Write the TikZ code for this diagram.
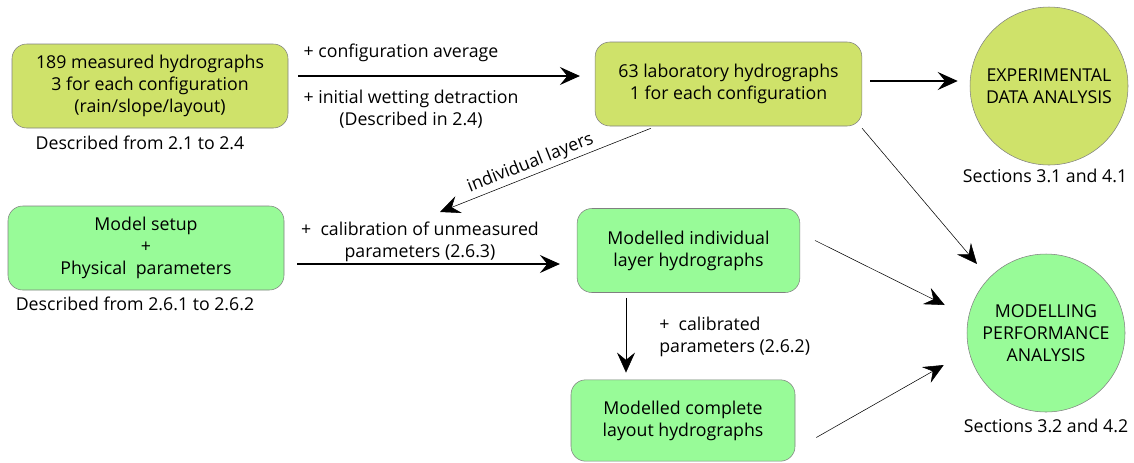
\documentclass[tikz,border=0pt]{standalone}
\usepackage{fontspec}
\setmainfont{Open Sans}
\usepackage{xcolor}
\usepackage{tikz}
\usetikzlibrary{arrows.meta, positioning, calc}

\definecolor{labyellow}{HTML}{CFE26A}
\definecolor{modelgreen}{HTML}{98FB98}

\begin{document}
\begin{tikzpicture}[
    x=0.75pt, y=-0.75pt,
    font=\fontsize{13.3}{16.5}\selectfont,
    box/.style={draw=gray, rounded corners=11pt, minimum width=#1, minimum height=63pt, align=center, inner sep=0pt},
    bubble/.style={draw=gray, circle, minimum size=118.5pt, align=center, inner sep=0pt},
    arrow/.style={-{Stealth[length=15pt, width=13.5pt, inset=5.5pt]}, thick},
    thinarrow/.style={-{Stealth[length=15pt, width=13.5pt, inset=5.5pt]}},
    note/.style={align=center, inner sep=0pt}
]
    \useasboundingbox (0,0) rectangle (1134,462);

    % Main components
    \node[box=207pt, fill=labyellow] (measured) at (150,86) {189 measured hydrographs\\3 for each configuration\\(rain/slope/layout)};
    \node[box=200pt, fill=labyellow] (lab) at (728.5,84) {63 laboratory hydrographs\\1 for each configuration};
    \node[bubble, fill=labyellow] (expan) at (1049,86) {EXPERIMENTAL\\DATA ANALYSIS};
    \node[box=207pt, fill=modelgreen] (setup) at (146,248) {Model setup\\+\\Physical~ parameters};
    \node[box=167pt, fill=modelgreen] (layer) at (688.5,250.5) {Modelled individual\\layer hydrographs};
    \node[box=168pt, minimum height=61pt, fill=modelgreen] (complete) at (683,420.5) {Modelled complete\\layout hydrographs};
    \node[bubble, fill=modelgreen] (modan) at (1046,333) {MODELLING\\PERFORMANCE\\ANALYSIS};

    % Captions
    \node[note] (capmeas) at (140,143) {Described from 2.1 to 2.4};
    \node[note] (capsetup) at (135,304) {Described from 2.6.1 to 2.6.2};
    \node[note] (capexp) at (1045,176) {Sections 3.1 and 4.1};
    \node[note] (capmod) at (1046,426) {Sections 3.2 and 4.2};

    % Arrows
    \draw[arrow] ($(measured.east)+(10,-10)$) -- ($(lab.west)+(-15,-8)$);
    \node[note] (avg) at (401,53) {+ configuration average};
    \node[note] (wet) at (411,109) {+ initial wetting detraction\\(Described in 2.4)};

    \draw[arrow] ($(lab.east)+(8,-3)$) -- ($(expan.west)+(-12,-5)$);
    \draw[thinarrow] ($(lab.south east)+(0,2)$) -- ($(modan.north west)+(-13,-13)$);

    \coordinate (layertip) at (440,212);
    \draw[thinarrow] ($(lab.south west)+(56,2)$) -- node[sloped, above, pos=0.55, inner sep=2pt] {individual layers} (layertip);

    \draw[arrow] ($(setup.east)+(13,16)$) -- ($(layer.west)+(-17,13.5)$);
    \node[note] (calib) at (420,242) {+~ calibration of unmeasured\\parameters (2.6.3)};

    \draw[thinarrow] ($(layer.south)+(-62.5,5)$) -- ($(complete.north)+(-57,-7)$);
    \node[note, align=left, anchor=west] (calibd) at (659,337) {+~ calibrated\\parameters (2.6.2)};

    \draw[thinarrow] ($(layer.east)+(15,-10)$) -- ($(modan.west)+(-22,-28)$);
    \draw[thinarrow] ($(complete.east)+(21,17)$) -- ($(modan.west)+(-23,32)$);
\end{tikzpicture}
\end{document}
